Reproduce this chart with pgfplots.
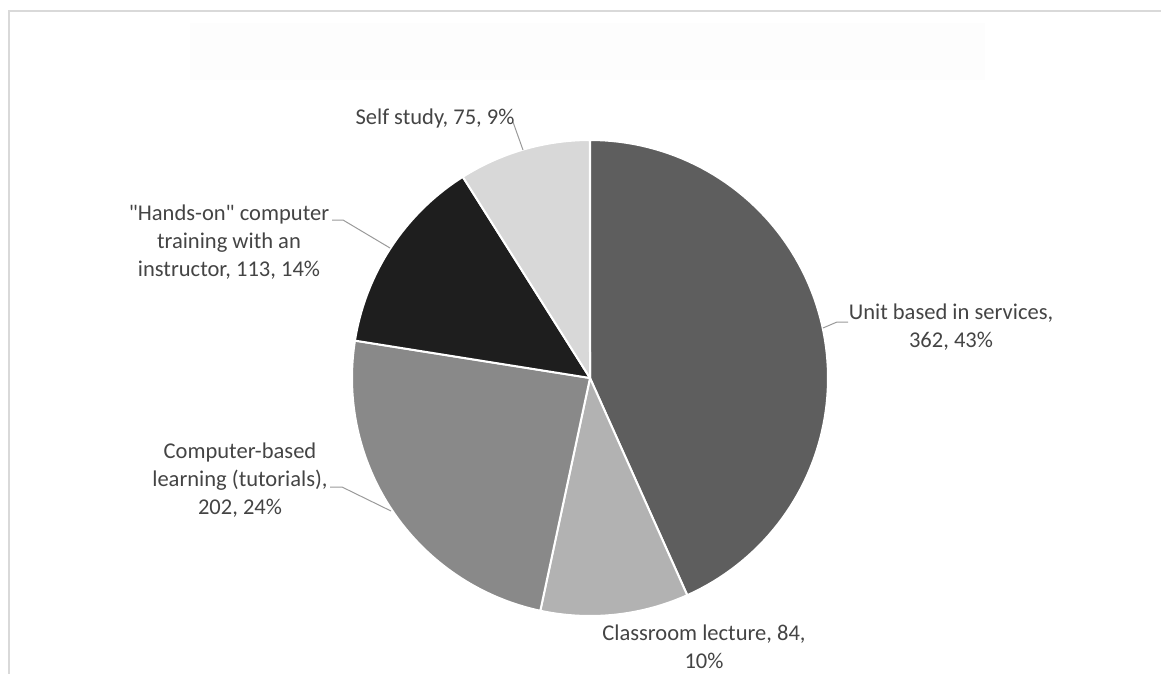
\documentclass[border=0pt]{standalone}
\usepackage{pgfplots}
\pgfplotsset{compat=1.18}
\usepackage{pgfplotstable}
\usepackage{fontspec}
\setmainfont{Carlito}[Ligatures=TeXOff]

\definecolor{cUnit}{HTML}{5E5E5E}
\definecolor{cClass}{HTML}{B2B2B2}
\definecolor{cComp}{HTML}{898989}
\definecolor{cHands}{HTML}{1E1E1E}
\definecolor{cSelf}{HTML}{D8D8D8}
\definecolor{txt}{HTML}{444444}
\definecolor{lead}{HTML}{9A9A9A}
\definecolor{framec}{HTML}{D9D9D9}

\pgfplotstableread{
name value
Unit 362
Classroom 84
Computer 202
Hands 113
Self 75
}\piedata

\pgfplotstablegetelem{0}{value}\of\piedata \let\vA\pgfplotsretval
\pgfplotstablegetelem{1}{value}\of\piedata \let\vB\pgfplotsretval
\pgfplotstablegetelem{2}{value}\of\piedata \let\vC\pgfplotsretval
\pgfplotstablegetelem{3}{value}\of\piedata \let\vD\pgfplotsretval
\pgfplotstablegetelem{4}{value}\of\piedata \let\vE\pgfplotsretval

\pgfmathsetmacro\tot{\vA+\vB+\vC+\vD+\vE}
\pgfmathsetmacro\aA{-90}
\pgfmathsetmacro\aB{\aA+\vA/\tot*360}
\pgfmathsetmacro\aC{\aB+\vB/\tot*360}
\pgfmathsetmacro\aD{\aC+\vC/\tot*360}
\pgfmathsetmacro\aE{\aD+\vD/\tot*360}
\pgfmathsetmacro\aF{\aE+\vE/\tot*360}

\def\cx{590}
\def\cy{378}
\def\R{238}

\newcommand\slice[3]{%
  \addplot[fill=#1, draw=white, line width=1.5pt, line join=round,
    domain=#2:#3, samples=90, variable=\t]
    ({\cx+\R*cos(\t)},{\cy+\R*sin(\t)}) -- (axis cs:\cx,\cy) -- cycle;}

\tikzset{lbl/.style={font=\fontsize{16.9}{21}\selectfont, text=txt, align=center, inner sep=0pt}}

\begin{document}
\begin{tikzpicture}
\begin{axis}[
  at={(0,0)}, anchor=south west,
  scale only axis, width=870.75pt, height=505.5pt,
  xmin=0, xmax=1161, ymin=0, ymax=674, y dir=reverse,
  hide axis, clip=false]
  \fill[black!0.9] (axis cs:190,23) rectangle (axis cs:985,80);
  \draw[framec, line width=1.5pt] (axis cs:9,674) -- (axis cs:9,11) -- (axis cs:1161,11);

  \slice{cUnit}{\aA}{\aB}
  \slice{cClass}{\aB}{\aC}
  \slice{cComp}{\aC}{\aD}
  \slice{cHands}{\aD}{\aE}
  \slice{cSelf}{\aE}{\aF}

  \draw[lead, line width=0.75pt] (axis cs:513,122) -- (axis cs:523,150);
  \draw[lead, line width=0.75pt] (axis cs:332,220) -- (axis cs:343,220) -- (axis cs:390,248);
  \draw[lead, line width=0.75pt] (axis cs:330,487) -- (axis cs:342,487) -- (axis cs:391,511);
  \draw[lead, line width=0.75pt] (axis cs:823,328) -- (axis cs:837,322) -- (axis cs:848,322);

  \node[lbl] at (axis cs:435,118) {Self study, 75, 9\%};
  \node[lbl] at (axis cs:951,327) {Unit based in services,\\362, 43\%};
  \node[lbl] at (axis cs:704,647) {Classroom lecture, 84,\\10\%};
  \node[lbl] at (axis cs:229,242) {"Hands-on" computer\\training with an\\instructor, 113, 14\%};
  \node[lbl] at (axis cs:240,480) {Computer-based\\learning (tutorials),\\202, 24\%};
\end{axis}
\pgfresetboundingbox
\path (0,0) rectangle (870.75pt,505.5pt);
\end{tikzpicture}
\end{document}
